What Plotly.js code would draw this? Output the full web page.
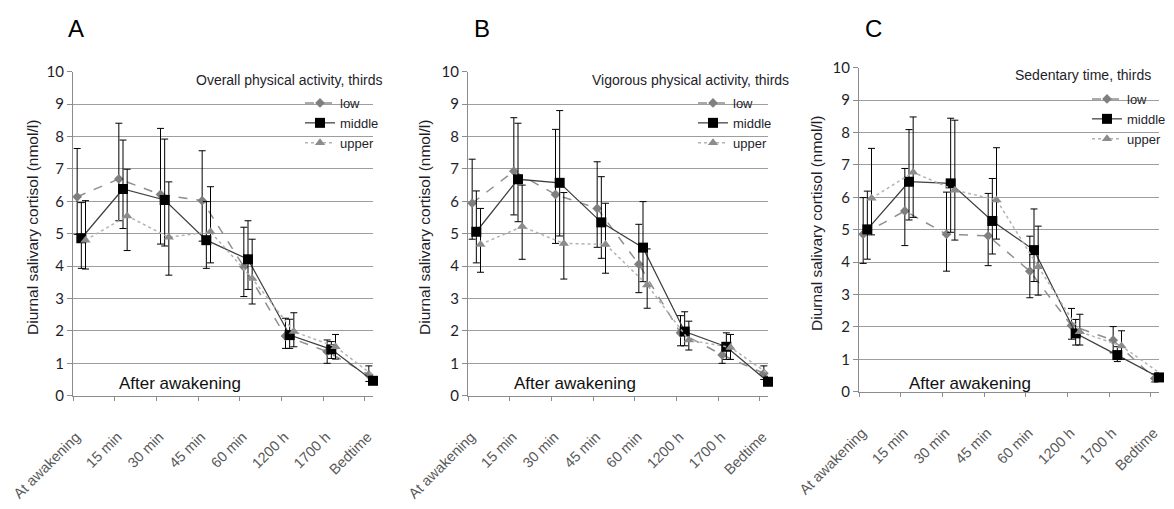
<!DOCTYPE html>
<html><head><meta charset="utf-8">
<script src="https://cdn.plot.ly/plotly-3.0.1.min.js"></script>
<style>html,body{margin:0;padding:0;background:#fff}#chart{width:1174px;height:509px}</style>
</head><body><div id="chart"></div>
<script>
// ---------- data ----------
const categories = ["At awakening","15 min","30 min","45 min","60 min","1200 h","1700 h","Bedtime"];
const groupNames = ["low","middle","upper"];
const panelLetters = ["A","B","C"];
const legendTitles = ["Overall physical activity, thirds","Vigorous physical activity, thirds","Sedentary time, thirds"];
const yTitle = "Diurnal salivary cortisol (nmol/l)";
const noteText = "After awakening";

// Panel A: overall physical activity (mean, upper CI, lower CI)
const aLow      = [6.14, 6.69, 6.21, 6.02, 3.98, 1.84, 1.36, 0.64];
const aLowHi    = [7.63, 8.41, 8.25, 7.56, 5.20, 2.39, 1.72, 0.92];
const aLowLo    = [4.98, 5.40, 4.68, 4.77, 3.06, 1.46, 1.00, 0.44];
const aMiddle   = [4.86, 6.38, 6.04, 4.80, 4.21, 1.87, 1.43, 0.46];
const aMiddleHi = [5.96, 7.89, 7.92, 5.99, 5.40, 2.36, 1.67, 0.60];
const aMiddleLo = [3.93, 5.16, 4.62, 3.93, 3.28, 1.46, 1.15, 0.35];
const aUpper    = [4.80, 5.55, 4.89, 5.06, 3.62, 1.98, 1.51, 0.53];
const aUpperHi  = [6.02, 6.99, 6.60, 6.45, 4.83, 2.56, 1.89, 0.75];
const aUpperLo  = [3.91, 4.48, 3.72, 4.10, 2.83, 1.51, 1.13, 0.38];

// Panel B: vigorous physical activity
const bLow      = [5.94, 6.93, 6.21, 5.78, 4.06, 1.94, 1.26, 0.69];
const bLowHi    = [7.30, 8.58, 8.22, 7.22, 5.29, 2.47, 1.56, 0.92];
const bLowLo    = [4.83, 5.58, 4.70, 4.58, 3.18, 1.54, 1.00, 0.50];
const bMiddle   = [5.06, 6.68, 6.57, 5.35, 4.57, 1.98, 1.51, 0.43];
const bMiddleHi = [6.32, 8.41, 8.80, 6.76, 5.99, 2.59, 1.94, 0.60];
const bMiddleLo = [4.10, 5.37, 4.93, 4.24, 3.52, 1.54, 1.12, 0.32];
const bUpper    = [4.67, 5.22, 4.70, 4.67, 3.42, 1.72, 1.49, 0.59];
const bUpperHi  = [5.78, 6.50, 6.27, 5.94, 4.53, 2.30, 1.89, 0.80];
const bUpperLo  = [3.81, 4.21, 3.60, 3.78, 2.70, 1.41, 1.12, 0.42];

// Panel C: sedentary time
const cLow      = [4.86, 5.58, 4.86, 4.81, 3.72, 2.04, 1.59, 0.41];
const cLowHi    = [5.99, 6.89, 6.16, 6.12, 4.80, 2.57, 2.01, 0.55];
const cLowLo    = [3.96, 4.51, 3.72, 3.89, 2.90, 1.62, 1.20, 0.30];
const cMiddle   = [5.01, 6.48, 6.43, 5.27, 4.37, 1.80, 1.13, 0.44];
const cMiddleHi = [6.19, 8.09, 8.44, 6.58, 5.64, 2.23, 1.39, 0.58];
const cMiddleLo = [4.09, 5.30, 4.92, 4.25, 3.40, 1.44, 0.93, 0.33];
const cUpper    = [5.97, 6.77, 6.22, 5.92, 3.86, 1.85, 1.41, 0.50];
const cUpperHi  = [7.51, 8.48, 8.38, 7.53, 5.11, 2.39, 1.88, 0.72];
const cUpperLo  = [4.84, 5.38, 4.68, 4.71, 2.98, 1.44, 1.00, 0.36];

// ---------- layout / styling ----------
const W = 1174, H = 509;
const panels = [
  {series: [[aLow,aLowHi,aLowLo],[aMiddle,aMiddleHi,aMiddleLo],[aUpper,aUpperHi,aUpperLo]],
   x0: 73, x1: 373, yb: 395.7, yt: 71.7, ytitleX: 33, ytitleY: 228, letterX: 76,
   legTitleRight: 384, legTitleY: 80, legLeft: 300, legTop: 88, noteX: 117, noteY: 383},
  {series: [[bLow,bLowHi,bLowLo],[bMiddle,bMiddleHi,bMiddleLo],[bUpper,bUpperHi,bUpperLo]],
   x0: 468, x1: 768, yb: 395.7, yt: 71.7, ytitleX: 425, ytitleY: 228, letterX: 482,
   legTitleRight: 791, legTitleY: 80, legLeft: 693, legTop: 88, noteX: 512, noteY: 383},
  {series: [[cLow,cLowHi,cLowLo],[cMiddle,cMiddleHi,cMiddleLo],[cUpper,cUpperHi,cUpperLo]],
   x0: 859, x1: 1159, yb: 391.7, yt: 67.7, ytitleX: 817, ytitleY: 224, letterX: 873,
   legTitleRight: 1153, legTitleY: 75, legLeft: 1087, legTop: 84, noteX: 907, noteY: 383}
];
const offsets = [0.1, 0.2, 0.3];
const styles = [
  {line: {color: '#8f8f8f', width: 1.5, dash: 'dash'}, marker: {symbol: 'diamond', size: 7.5, color: '#7f7f7f'}},
  {line: {color: '#3f3f3f', width: 1.25}, marker: {symbol: 'square', size: 10, color: '#000000'}},
  {line: {color: '#b3b3b3', width: 1.5, dash: 'dot'}, marker: {symbol: 'triangle-up', size: 9, color: '#8c8c8c'}}
];
const textColor = '#1e1e2a';
const axisGray = '#8c8c8c';
const sans = 'Liberation Sans, Arial, sans-serif';

const traces = [];
const layout = {
  width: W, height: H, margin: {l: 0, r: 0, t: 0, b: 0},
  paper_bgcolor: '#fff', plot_bgcolor: 'rgba(0,0,0,0)',
  showlegend: true, annotations: [], font: {family: sans, color: textColor}
};

panels.forEach((p, pi) => {
  const n = pi === 0 ? '' : String(pi + 1);
  const legName = 'legend' + n;
  p.series.forEach((s, gi) => {
    const [mean, hi, lo] = s;
    traces.push({
      type: 'scatter', mode: 'lines+markers', name: groupNames[gi],
      x: categories.map((_, i) => i + offsets[gi]), y: mean,
      text: categories, hovertemplate: '%{text}: %{y}<extra>' + groupNames[gi] + '</extra>',
      error_y: {type: 'data', symmetric: false,
        array: hi.map((v, i) => v - mean[i]), arrayminus: lo.map((v, i) => mean[i] - v),
        color: '#000', thickness: 1, width: 3.5},
      line: styles[gi].line, marker: styles[gi].marker,
      xaxis: 'x' + n, yaxis: 'y' + n, legend: legName, legendrank: gi + 1, cliponaxis: false
    });
  });
  layout['xaxis' + n] = {
    domain: [p.x0 / W, p.x1 / W], anchor: 'y' + n, range: [0, 7.2], fixedrange: true,
    tickvals: categories.map((_, i) => i), ticktext: categories, tickangle: -45,
    ticks: 'outside', ticklen: 4, tickcolor: axisGray, showline: true, linecolor: axisGray, linewidth: 1,
    showgrid: false, zeroline: false, ticklabelstandoff: 22, ticklabelshift: 3,
    tickfont: {family: sans, size: 14.5, color: '#595959'}
  };
  layout['yaxis' + n] = {
    domain: [(H - p.yb) / H, (H - p.yt) / H], anchor: 'x' + n, range: [0, 10], fixedrange: true,
    tick0: 0, dtick: 1, ticks: 'outside', ticklen: 5, tickcolor: axisGray,
    showline: true, linecolor: axisGray, linewidth: 1,
    showgrid: true, gridcolor: '#9e9e9e', gridwidth: 1, zeroline: false,
    tickfont: {family: 'Lato, Open Sans, sans-serif', size: 15, color: textColor}
  };
  layout[legName] = {
    x: p.legLeft / W, xanchor: 'left', y: (H - p.legTop) / H, yanchor: 'top',
    bgcolor: 'rgba(0,0,0,0)', borderwidth: 0, tracegroupgap: 0,
    font: {family: sans, size: 13, color: textColor}
  };
  layout.annotations.push(
    {text: panelLetters[pi], xref: 'paper', yref: 'paper', x: p.letterX / W, y: (H - 29) / H,
     xanchor: 'center', yanchor: 'middle', showarrow: false,
     font: {family: sans, size: 24, color: '#000'}},
    {text: yTitle, xref: 'paper', yref: 'paper', x: p.ytitleX / W, y: (H - p.ytitleY) / H,
     xanchor: 'center', yanchor: 'middle', textangle: -90, showarrow: false,
     font: {family: sans, size: 15.5, color: textColor}},
    {text: legendTitles[pi], xref: 'paper', yref: 'paper', x: p.legTitleRight / W, y: (H - p.legTitleY) / H,
     xanchor: 'right', yanchor: 'middle', showarrow: false,
     font: {family: sans, size: 14, color: textColor}},
    {text: noteText, xref: 'paper', yref: 'paper', x: p.noteX / W, y: (H - p.noteY) / H,
     xanchor: 'left', yanchor: 'middle', showarrow: false,
     font: {family: sans, size: 17, color: '#111'}}
  );
});

Plotly.newPlot('chart', traces, layout, {displayModeBar: false, staticPlot: true});
</script>
</body></html>
